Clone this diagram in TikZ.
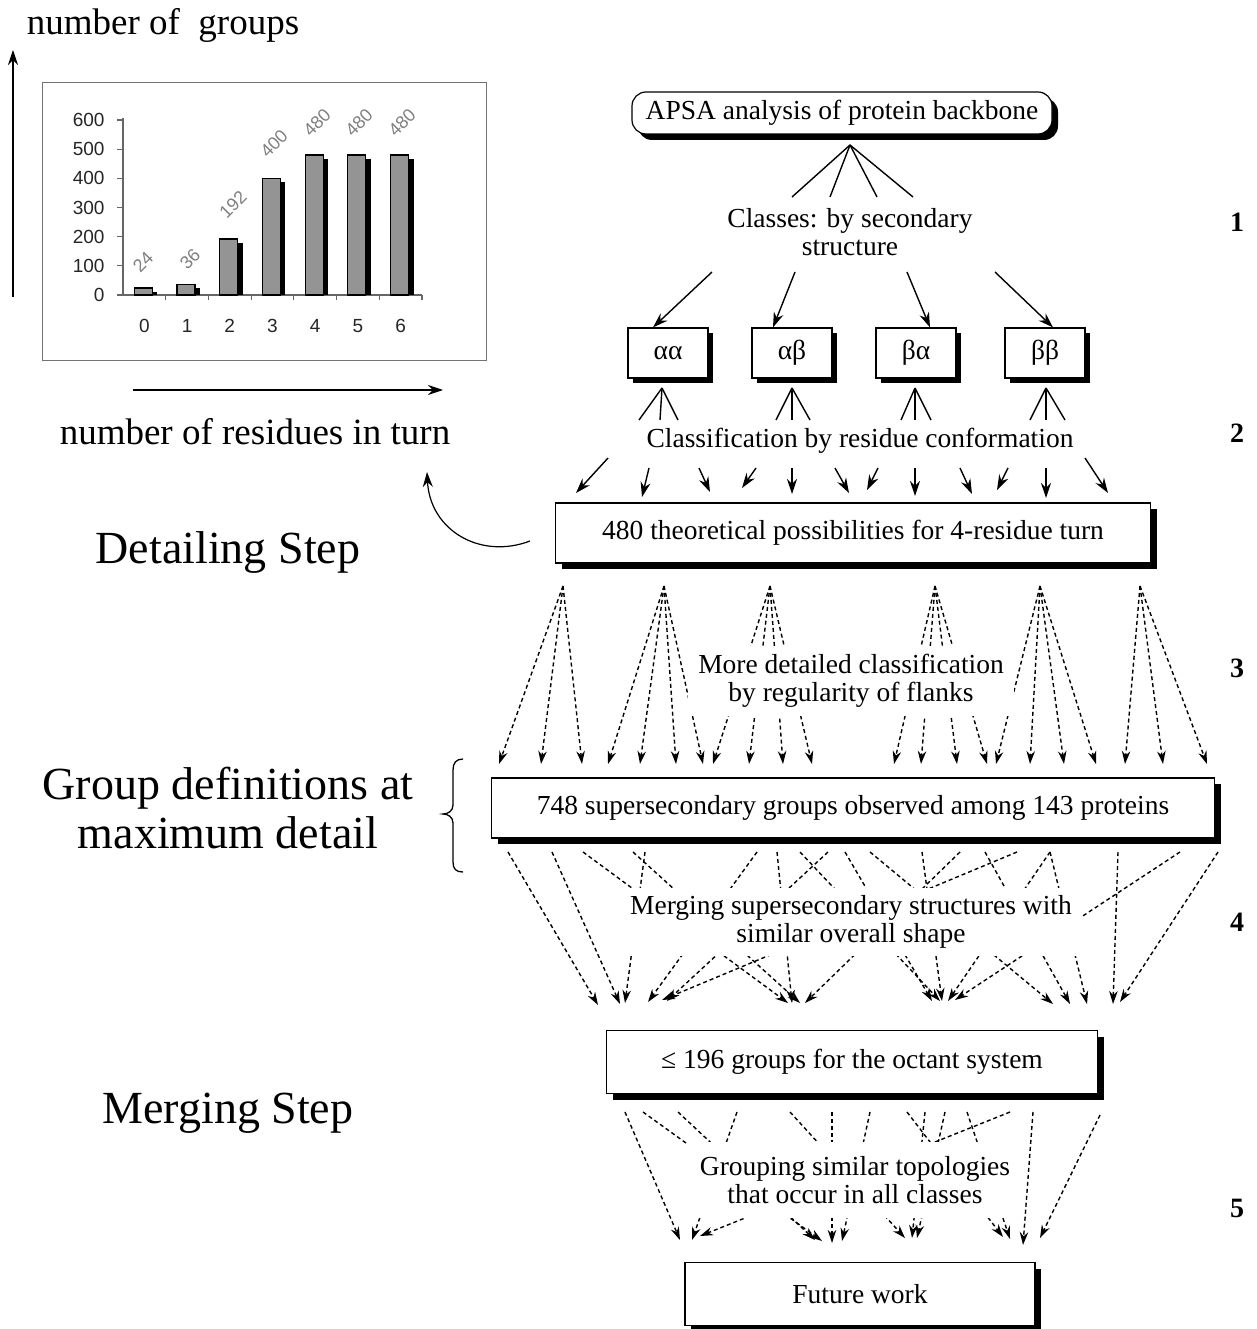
\documentclass[tikz,border=0pt]{standalone}
\usepackage{fontspec}
\setmainfont{Liberation Serif}
\newfontfamily\chartfont{Liberation Sans}
\usetikzlibrary{arrows.meta,shadows,calc}
\begin{document}
\begin{tikzpicture}[x=1pt,y=-1pt,
  fmain/.style={font=\fontsize{27.5}{28}\selectfont},
  box/.style={draw=black, line width=1.2pt, fill=white, inner sep=0pt, fmain},
  bigshadow/.style={drop shadow={shadow xshift=6pt, shadow yshift=-6pt, opacity=1, fill=black}},
  smallshadow/.style={drop shadow={shadow xshift=5pt, shadow yshift=-5pt, opacity=1, fill=black}},
  lbl/.style={fmain, align=center, fill=white, inner xsep=10pt, inner ysep=8pt},
  side/.style={font=\fontsize{46}{49}\selectfont, align=center},
  axlbl/.style={font=\fontsize{37}{40}\selectfont},
  num/.style={font=\fontsize{28}{30}\selectfont\bfseries},
  arr/.style={line width=1.4pt, -{Stealth[length=15pt,width=10pt]}},
  dsh/.style={line width=1.4pt, dash pattern=on 4pt off 3pt, -{Stealth[length=13pt,width=8.5pt]}},
  plain/.style={line width=1.4pt},
  tick/.style={font=\chartfont\fontsize{19}{20}\selectfont, text=black!85},
  val/.style={font=\chartfont\fontsize{18}{19}\selectfont, text=black!50, rotate=45, inner sep=0pt},
]
\fill[white] (0,0) rectangle (1256,1329);
\useasboundingbox (0,0) rectangle (1256,1329);

% ---------------- chart ----------------
\draw[black!55, line width=1pt] (42,83) rectangle (486,360);
\draw[black!60, line width=1.2pt] (123,118) -- (123,295) -- (422,295);
\foreach \k/\lab in {0/0,1/100,2/200,3/300,4/400,5/500,6/600} {
  \draw[black!60, line width=1.2pt] (117,{295-29.17*\k}) -- (123,{295-29.17*\k});
  \node[tick, anchor=east] at (108,{295-29.17*\k}) {\lab};
}
\foreach \k in {1,...,7} {
  \draw[black!60, line width=1.2pt] ({123+42.7*\k},295) -- ({123+42.7*\k},300);
}
\foreach \k/\v in {0/24,1/36,2/192,3/400,4/480,5/480,6/480} {
  \pgfmathsetmacro\bc{144.35+42.7*\k}
  \pgfmathsetmacro\bt{295-0.2917*\v}
  \fill[black] ({\bc-4},{\bt+4}) rectangle ({\bc+13},295);
  \draw[black, line width=1.2pt, fill=black!42] ({\bc-10},\bt) rectangle ({\bc+8},295);
  \node[tick] at (\bc,326) {\k};
}
\foreach \x/\y/\v in {143/262/24, 190/259/36, 233/205/192, 274/144/400, 317/123/480, 359/123/480, 402/123/480}
  \node[val] at (\x,\y) {\v};

% axis arrows and labels
\coordinate (yb) at (13,297); \coordinate (yt) at (13,50);
\draw[arr] (yb) -- (yt);
\coordinate (xl) at (133,390); \coordinate (xr) at (443,390);
\draw[arr] (xl) -- (xr);
\node[axlbl] (ylab) at (163,25) {number of\ \ groups};
\node[axlbl] (xlab) at (255,432) {number of residues in turn};

% ---------------- side labels ----------------
\node[side] (detail) at (228,553) {Detailing Step};
\node[side] (groupdef) at (228,808) {Group definitions at\\maximum detail};
\node[side] (merging) at (228,1113) {Merging Step};
\foreach \n/\y in {1/222,2/433,3/668,4/922,5/1208}
  \node[num] (n\n) at (1237,\y) {\n};

% ---------------- flow boxes ----------------
\node[box, bigshadow, rounded corners=14pt, minimum width=420pt, minimum height=42pt] (apsa) at (842,113) {APSA analysis of protein backbone};
\node[fmain, align=center] (classes) at (850,232) {Classes: by secondary\\structure};
\node[box, smallshadow, minimum width=80pt, minimum height=50pt] (aa) at (668,353) {αα};
\node[box, smallshadow, minimum width=80pt, minimum height=50pt] (ab) at (792,353) {αβ};
\node[box, smallshadow, minimum width=80pt, minimum height=50pt] (ba) at (916,353) {βα};
\node[box, smallshadow, minimum width=80pt, minimum height=50pt] (bb) at (1045,353) {ββ};
\node[fmain] (rescls) at (860,441) {Classification by residue conformation};
\node[box, bigshadow, minimum width=595pt, minimum height=60pt] (b480) at (853,533) {480 theoretical possibilities for 4-residue turn};
\node[box, bigshadow, minimum width=723pt, minimum height=60pt] (b748) at (853,808) {748 supersecondary groups observed among 143 proteins};
\node[box, bigshadow, minimum width=491pt, minimum height=63pt] (b196) at (852,1062) {≤ 196 groups for the octant system};
\node[box, bigshadow, minimum width=350pt, minimum height=63pt] (future) at (860,1294) {Future work};

% APSA fan
\coordinate (fa) at (850,145);
\foreach \x [count=\i] in {792,830,877,913} {
  \coordinate (fa\i) at (\x,197);
  \draw[plain] (fa) -- (fa\i);
}
% class arrows
\coordinate (ca1) at (712,272); \draw[arr] (ca1) -- ([xshift=-15pt]aa.north);
\coordinate (ca2) at (795,272); \draw[arr] (ca2) -- ([xshift=-19pt]ab.north);
\coordinate (ca3) at (907,272); \draw[arr] (ca3) -- ([xshift=14pt]ba.north);
\coordinate (ca4) at (995,272); \draw[arr] (ca4) -- ([xshift=8pt]bb.north);

% fans under class boxes
\foreach \ax/\l/\m/\r [count=\j] in {662/639/660/678, 792/776/792/810, 915/901/915/931, 1046/1030/1046/1065} {
  \coordinate (ap\j) at (\ax,388);
  \foreach \bx [count=\i] in {\l,\m,\r} {
    \coordinate (ap\j b\i) at (\bx,420);
    \draw[plain] (ap\j) -- (ap\j b\i);
  }
}

% residue conformation arrows
\foreach \sx/\sy/\tx/\ty [count=\i] in {608/458/576/493, 649/468/642/497, 699/468/710/492, 756/468/742/488,
   792/468/792/494, 835/468/849/493, 878/468/867/490, 915/468/915/496, 960/468/972/494,
   1008/468/997/490, 1046/468/1046/498, 1085/458/1108/493} {
  \coordinate (rs\i) at (\sx,\sy); \coordinate (rt\i) at (\tx,\ty);
  \draw[arr] (rs\i) -- (rt\i);
}

% curved arrow to chart
\coordinate (cs) at (530,541); \coordinate (ce) at (427,472);
\draw[arr, line width=1.2pt] (cs) .. controls (480,560) and (430,530) .. (ce);

% brace
\draw[line width=1.3pt] (463,759) .. controls (456,759) and (453,763) .. (453,770) -- (453,805)
  .. controls (453,811) and (448,814) .. (443,814) .. controls (448,814) and (453,817) .. (453,823)
  -- (453,862) .. controls (453,869) and (456,872) .. (463,872);

% flank fans
\coordinate (s1) at (563,586);
\foreach \tx [count=\i] in {499,541,582} { \coordinate (s1t\i) at (\tx,764); \draw[dsh] (s1) -- (s1t\i); }
\coordinate (s2) at (664,586);
\foreach \tx [count=\i] in {608,640,676,703} { \coordinate (s2t\i) at (\tx,764); \draw[dsh] (s2) -- (s2t\i); }
\coordinate (s3) at (770,586);
\foreach \tx [count=\i] in {713,749,783,812} { \coordinate (s3t\i) at (\tx,764); \draw[dsh] (s3) -- (s3t\i); }
\coordinate (s4) at (935,586);
\foreach \tx [count=\i] in {894,921,957,987} { \coordinate (s4t\i) at (\tx,764); \draw[dsh] (s4) -- (s4t\i); }
\coordinate (s5) at (1040,586);
\foreach \tx [count=\i] in {996,1030,1064,1096} { \coordinate (s5t\i) at (\tx,764); \draw[dsh] (s5) -- (s5t\i); }
\coordinate (s6) at (1140,586);
\foreach \tx [count=\i] in {1125,1163,1207} { \coordinate (s6t\i) at (\tx,764); \draw[dsh] (s6) -- (s6t\i); }
\node[lbl] (flanks) at (851,681) {More detailed classification\\by regularity of flanks};

% merging arrows
\foreach \sx/\tx/\ty [count=\i] in {508/598/1005, 552/620/1004, 583/788/1003, 633/800/1003, 645/625/1003,
   757/648/1002, 777/792/1003, 800/940/1001, 828/667/1001, 870/1053/1004, 845/932/1001,
   922/942/1001, 960/805/1003, 1017/662/1000, 985/1070/1004, 1050/948/1001, 1050/1087/1004,
   1118/1113/1004, 1180/955/1000, 1218/1120/1002} {
  \coordinate (ms\i) at (\sx,852); \coordinate (mt\i) at (\tx,\ty);
  \draw[dsh] (ms\i) -- (mt\i);
}
\node[lbl] (merge) at (851,922) {Merging supersecondary structures with\\similar overall shape};

% grouping arrows
\foreach \sx/\sy/\tx/\ty [count=\i] in {625/1112/680/1240, 643/1112/822/1241, 678/1112/815/1240,
   737/1112/692/1240, 790/1112/905/1238, 832/1112/832/1243, 870/1112/842/1241, 1010/1112/700/1236,
   907/1112/1003/1237, 925/1112/912/1238, 945/1112/917/1238, 967/1112/1010/1239,
   1033/1112/1023/1245, 1100/1115/1040/1238} {
  \coordinate (gs\i) at (\sx,\sy); \coordinate (gt\i) at (\tx,\ty);
  \draw[dsh] (gs\i) -- (gt\i);
}
\node[lbl, inner xsep=12pt, inner ysep=14pt] (topo) at (855,1180) {Grouping similar topologies\\that occur in all classes};
\end{tikzpicture}
\end{document}
